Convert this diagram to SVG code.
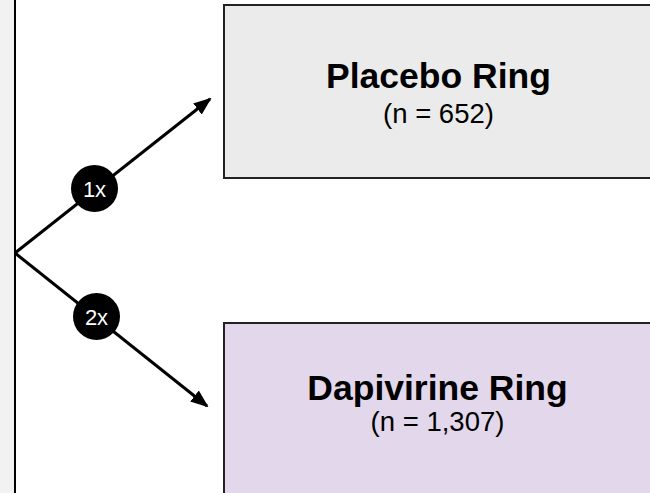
<svg xmlns="http://www.w3.org/2000/svg" width="650" height="493" viewBox="0 0 650 493">
<defs>
<style>
.box{stroke:#222;stroke-width:2}
.title{font-family:"Liberation Sans",Arial,sans-serif;font-weight:bold;font-size:35.5px;fill:#000;text-anchor:middle}
.sub{font-family:"Liberation Sans",Arial,sans-serif;font-size:27.5px;fill:#000;text-anchor:middle}
.badge{fill:#000}
.badgeText{font-family:"Liberation Sans",Arial,sans-serif;font-size:22px;fill:#fff;text-anchor:middle}
.conn{stroke:#000;stroke-width:3;fill:none}
</style>
<marker id="arrow" markerUnits="userSpaceOnUse" markerWidth="18" markerHeight="16" refX="16" refY="7" orient="auto" viewBox="0 0 18 14">
<path d="M0,0 L18,7 L0,14 Z" fill="#000"/>
</marker>
</defs>
<rect width="650" height="493" fill="#fff"/>
<g id="panel">
<rect x="-20" y="-5" width="35" height="503" fill="#f2f2f2" stroke="#000" stroke-width="2"/>
</g>
<g id="connectors">
<line class="conn" x1="15" y1="253" x2="210" y2="99" marker-end="url(#arrow)"/>
<line class="conn" x1="15" y1="253" x2="207" y2="406" marker-end="url(#arrow)"/>
</g>
<g id="badge1">
<circle class="badge" cx="94.5" cy="188.5" r="23.5"/>
<text class="badgeText" x="94.5" y="196.5">1x</text>
</g>
<g id="badge2">
<circle class="badge" cx="96.5" cy="316.5" r="23.5"/>
<text class="badgeText" x="96.5" y="324.5">2x</text>
</g>
<g id="placebo">
<rect class="box" x="224" y="5" width="440" height="173" fill="#ebebeb"/>
<text class="title" x="438.5" y="87.5">Placebo Ring</text>
<text class="sub" x="438.5" y="122.5">(n = 652)</text>
</g>
<g id="dapivirine">
<rect class="box" x="224" y="323" width="450" height="190" fill="#e3d7eb"/>
<text class="title" x="437.5" y="399.5">Dapivirine Ring</text>
<text class="sub" x="437.5" y="431">(n = 1,307)</text>
</g>
</svg>
